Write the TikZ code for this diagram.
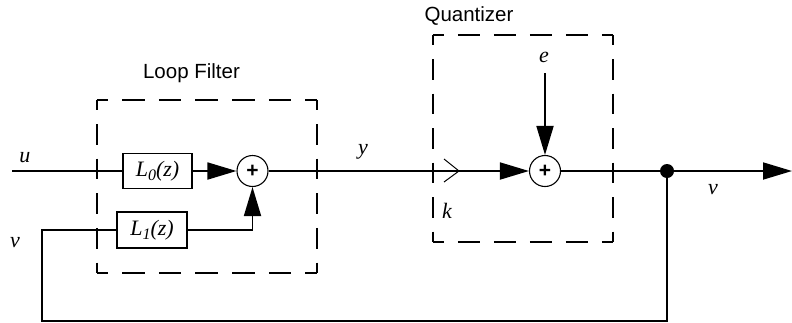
\documentclass[tikz,border=0pt]{standalone}
\usepackage{fontspec}
\setmainfont{Liberation Sans}
\newfontfamily\tms{Liberation Serif}
\usetikzlibrary{arrows.meta}
\newcommand{\Lsub}[1]{L\raisebox{-4pt}{\fontsize{16}{16}\selectfont #1}(z)}
\tikzset{
 wire/.style={line width=1.8pt},
 blk/.style={draw, line width=1.8pt, inner sep=0pt, font=\tms\itshape\fontsize{22}{22}\selectfont},
 sumnode/.style={draw, circle, line width=1.1pt, minimum size=31pt, inner sep=0pt, font=\bfseries\fontsize{21}{21}\selectfont},
 region/.style={inner sep=0pt},
 dside/.style 2 args={line width=1.8pt, dash pattern=on #1 off 14pt, dash phase=#2},
 lbl/.style={font=\tms\itshape\fontsize{22}{22}\selectfont, inner sep=0pt},
 ttl/.style={font=\fontsize{20.5}{20.5}\selectfont, inner sep=0pt, anchor=base},
 tip/.style={-{Triangle[length=29pt,width=17pt]}},
 dotnode/.style={circle, fill, inner sep=0pt, minimum size=14pt},
}
\begin{document}
\begin{tikzpicture}[x=1pt,y=-1pt]
\useasboundingbox (0,0) rectangle (792,322);
% dashed boxes
\node (lf) [region, minimum width=220pt, minimum height=173pt] at (207,186.5) {};
\node (qz) [region, minimum width=180pt, minimum height=207pt] at (523,138.5) {};
\draw[dside={22.67pt}{11.33pt}] (lf.north west) -- (lf.north east);
\draw[dside={22.67pt}{11.33pt}] (lf.south west) -- (lf.south east);
\draw[dside={20.6pt}{10.3pt}] (lf.north west) -- (lf.south west);
\draw[dside={20.6pt}{10.3pt}] (lf.north east) -- (lf.south east);
\draw[dside={22pt}{11pt}] (qz.north west) -- (qz.north east);
\draw[dside={22pt}{11pt}] (qz.south west) -- (qz.south east);
\draw[dside={20.5pt}{10.25pt}] (qz.north west) -- (qz.south west);
\draw[dside={20.5pt}{10.25pt}] (qz.north east) -- (qz.south east);
\node (lft) [ttl] at (191.5,78) {Loop Filter};
\node (qzt) [ttl] at (469,21) {Quantizer};
% blocks
\node (L0) [blk, minimum width=69pt, minimum height=35pt] at (157.5,171) {\Lsub{0}};
\node (L1) [blk, minimum width=70pt, minimum height=36pt] at (152,230) {\Lsub{1}};
\node (s1) [sumnode] at (252.5,171) {+};
\node (s2) [sumnode] at (545,171) {+};
\node (dot) [dotnode] at (667,171) {};
% coordinates
\coordinate (uin) at (12,171);
\coordinate (etop) at (545,73);
\coordinate (out) at (792,171);
\coordinate (fb) at (42,321);
% wires
\draw[wire] (uin) -- (L0);
\draw[wire, tip] (L0) -- (s1);
\draw[wire, tip] (L1.east) -| (s1.south);
\draw[wire, tip] (s1) -- (s2);
\draw[wire, tip] (etop) -- (s2);
\draw[wire] (s2) -- (dot);
\draw[wire, tip] (dot) -- (out);
\draw[wire] (dot.center) |- (fb) |- (L1.west);
% sampler
\draw[line width=1pt] (444,159) -- (459,171) -- (444,182);
% labels
\node (lu) [lbl] at (25,158) {u};
\node (lv1) [lbl] at (15,243) {v};
\node (ly) [lbl] at (363,152) {y};
\node (lk) [lbl] at (447,211) {k};
\node (le) [lbl] at (544,57) {e};
\node (lv2) [lbl] at (713,190) {v};
\end{tikzpicture}
\end{document}
